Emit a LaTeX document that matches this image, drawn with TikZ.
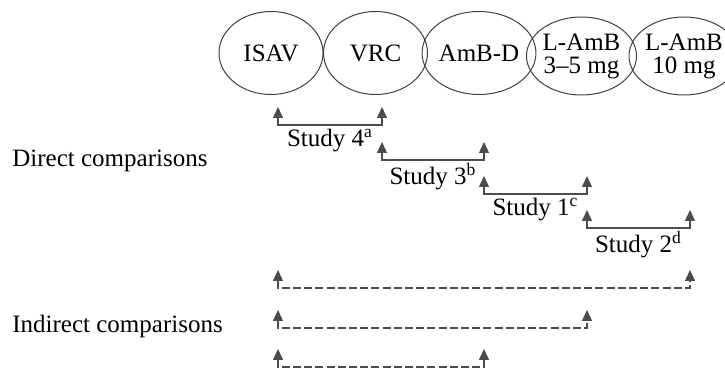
\documentclass[tikz,border=0pt]{standalone}
\usepackage{fontspec}
\setmainfont{Liberation Serif}
\usetikzlibrary{shapes.geometric, arrows.meta}

\begin{document}
\begin{tikzpicture}[x=0.5pt, y=-0.5pt, font=\fontsize{12.5}{15}\selectfont,
		drug/.style={ellipse, draw=black!75, line width=0.5pt, minimum width=52pt,
			minimum height=41.5pt, inner sep=0pt, align=center,
			font=\fontsize{12.5}{11.5}\selectfont},
		study/.style={draw=black!70, line width=0.7pt,
			{Triangle[length=5.5pt,width=5pt]}-{Triangle[length=5.5pt,width=5pt]}},
		indirect/.style={study, dash pattern=on 4pt off 1.6pt},
		lbl/.style={anchor=base west, inner sep=0pt}]
		\clip (0,0) rectangle (725,368);
		\def\h{18};
		
		% drugs
		\node[drug] (isav) at (271,53) {ISAV};
		\node[drug] (vrc) at (375.5,53) {VRC};
		\node[drug] (ambd) at (479,53) {AmB-D};
		\node[drug, minimum width=51pt, minimum height=39pt] (lamb5) at (581.5,56) {L-AmB\\3--5 mg};
		\node[drug, minimum width=51pt, minimum height=39pt] (lamb10) at (684,56) {L-AmB\\10 mg};
		
		% direct comparisons
		\node[lbl] (direct) at (12,167) {Direct comparisons};
		
		\coordinate (s4a) at (278,107);
		\coordinate (s4b) at (382,107);
		\coordinate (s3a) at (382,142);
		\coordinate (s3b) at (484,142);
		\coordinate (s1a) at (484,176);
		\coordinate (s1b) at (587,176);
		\coordinate (s2a) at (587,210);
		\coordinate (s2b) at (690,210);
		
		\draw[study] (s4a) -- ++(0,\h) -| node[pos=0.25, below, inner sep=1.5pt] {Study 4\textsuperscript{a}} (s4b);
		\draw[study] (s3a) -- ++(0,\h) -| node[pos=0.25, below, inner sep=1.5pt] {Study 3\textsuperscript{b}} (s3b);
		\draw[study] (s1a) -- ++(0,\h) -| node[pos=0.25, below, inner sep=1.5pt] {Study 1\textsuperscript{c}} (s1b);
		\draw[study] (s2a) -- ++(0,\h) -| node[pos=0.25, below, inner sep=1.5pt] {Study 2\textsuperscript{d}} (s2b);
		
		% indirect comparisons
		\node[lbl] (indirect) at (12,333) {Indirect comparisons};
		
		\coordinate (i1a) at (278,270);
		\coordinate (i1b) at (690,270);
		\coordinate (i2a) at (278,310);
		\coordinate (i2b) at (587,310);
		\coordinate (i3a) at (278,349);
		\coordinate (i3b) at (484,349);
		
		\draw[indirect] (i1a) -- ++(0,\h) -| (i1b);
		\draw[indirect] (i2a) -- ++(0,\h) -| (i2b);
		\draw[indirect] (i3a) -- ++(0,\h) -| (i3b);
	\end{tikzpicture}
\end{document}
